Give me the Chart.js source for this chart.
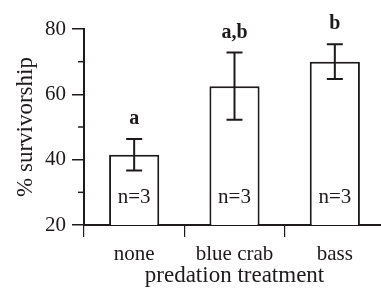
<!DOCTYPE html>
<html>
<head>
<meta charset="utf-8">
<script src="https://cdn.jsdelivr.net/npm/chart.js@4"></script>
<style>
  html, body { margin: 0; padding: 0; background: #fff; overflow: hidden; }
  #wrap { position: absolute; left: 0; top: 0; width: 385px; height: 292px; }
</style>
</head>
<body>
<div id="wrap"><canvas id="surv" width="385" height="292"></canvas></div>
<script>
const treatments = ['none', 'blue crab', 'bass'];
const survivorship = [41.5, 62.5, 70];
const stdError = [4.8, 10.3, 5.3];
const groupLetters = ['a', 'a,b', 'b'];
const sampleSizes = ['n=3', 'n=3', 'n=3'];
const yTicks = [20, 40, 60, 80];
const yMinorTicks = [30, 50, 70];

const ink = '#1e1a1b';
const serif = "'Liberation Serif', 'Times New Roman', serif";

// error bars, letters and n= labels on top of the bars
const extras = {
    id: 'extras',
    afterDatasetsDraw(chart) {
        const ctx = chart.ctx;
        const x = chart.scales.x;
        const y = chart.scales.y;
        ctx.save();
        ctx.strokeStyle = ink;
        ctx.fillStyle = ink;
        ctx.lineWidth = 2;
        survivorship.forEach((v, i) => {
            const cx = x.getPixelForValue(i);
            const top = y.getPixelForValue(v + stdError[i]);
            const bot = y.getPixelForValue(v - stdError[i]);
            ctx.beginPath();
            ctx.moveTo(cx, top);
            ctx.lineTo(cx, bot);
            ctx.moveTo(cx - 8, top);
            ctx.lineTo(cx + 8, top);
            ctx.moveTo(cx - 8, bot);
            ctx.lineTo(cx + 8, bot);
            ctx.stroke();

            ctx.textAlign = 'center';
            ctx.textBaseline = 'alphabetic';
            ctx.font = 'bold 20px ' + serif;
            ctx.fillText(groupLetters[i], cx, top - 15);

            ctx.font = '21px ' + serif;
            ctx.fillText(sampleSizes[i], cx, y.getPixelForValue(20) - 22);
        });
        ctx.restore();
    },
    afterDraw(chart) {
        // short minor ticks on the y axis
        const ctx = chart.ctx;
        const y = chart.scales.y;
        ctx.save();
        ctx.strokeStyle = ink;
        ctx.lineWidth = 1.5;
        yMinorTicks.forEach((t) => {
            const py = y.getPixelForValue(t);
            ctx.beginPath();
            ctx.moveTo(y.right - 6, py);
            ctx.lineTo(y.right, py);
            ctx.stroke();
        });
        ctx.restore();
    }
};

const surv = new Chart(
    document.getElementById('surv'),
    {
        type: 'bar',
        data: {
            labels: treatments,
            datasets: [{
                data: survivorship,
                backgroundColor: '#fff',
                borderColor: ink,
                borderWidth: 2,
                barPercentage: 0.5,
                categoryPercentage: 1.0
            }]
        },
        options: {
            responsive: false,
            animation: false,
            layout: { padding: { top: 29, right: 0, left: 0, bottom: 0 } },
            plugins: {
                legend: { display: false },
                tooltip: { enabled: false }
            },
            scales: {
                x: {
                    offset: true,
                    afterFit: (s) => { s.height = 67; },
                    grid: {
                        offset: true,
                        drawOnChartArea: false,
                        tickLength: 12,
                        color: ink,
                        lineWidth: 1.2
                    },
                    border: { color: ink, width: 2 },
                    ticks: {
                        color: ink,
                        font: { family: serif, size: 21 },
                        padding: 5
                    },
                    title: {
                        display: true,
                        text: 'predation treatment',
                        color: ink,
                        font: { family: serif, size: 23 },
                        padding: { top: 0, bottom: 2 }
                    }
                },
                y: {
                    min: 20,
                    max: 80,
                    afterFit: (s) => { s.width = 84; },
                    afterBuildTicks: (s) => { s.ticks = yTicks.map((v) => ({ value: v })); },
                    grid: {
                        drawOnChartArea: false,
                        tickLength: 12,
                        color: ink,
                        lineWidth: 1.5
                    },
                    border: { color: ink, width: 2 },
                    ticks: {
                        color: ink,
                        font: { family: serif, size: 21 },
                        padding: 6
                    },
                    title: {
                        display: true,
                        text: '% survivorship',
                        color: ink,
                        font: { family: serif, size: 23 },
                        padding: { top: 12, bottom: 0 }
                    }
                }
            }
        },
        plugins: [extras]
    }
);
</script>
</body>
</html>
